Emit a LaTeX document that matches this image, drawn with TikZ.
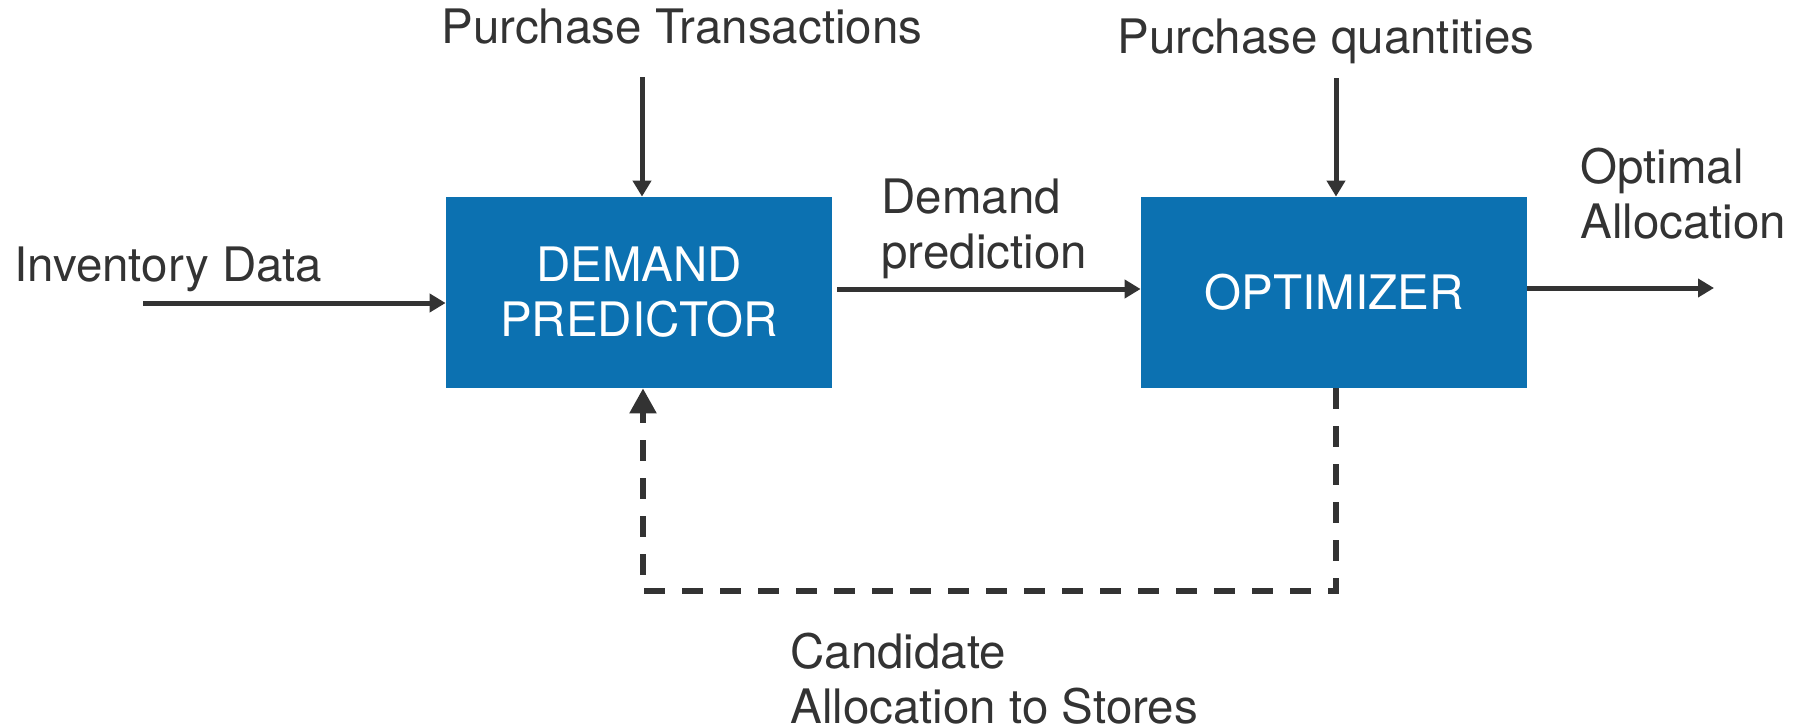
\documentclass[tikz,border=0pt]{standalone}
\usepackage{fontspec}
\setmainfont{TeX Gyre Heros}
\usetikzlibrary{arrows.meta}
\definecolor{boxblue}{RGB}{12,113,177}
\definecolor{ink}{RGB}{51,51,51}
\begin{document}
\begin{tikzpicture}[x=0.5pt,y=-0.5pt,
  every node/.style={font=\fontsize{23.75}{27.5}\selectfont, text=ink, inner sep=0pt},
  block/.style={fill=boxblue, text=white, minimum width=193pt, minimum height=95.5pt, align=center},
  lbl/.style={align=left, anchor=base west},
  conn/.style={draw=ink, line width=2.5pt, -{Triangle[length=8pt,width=9pt]}},
  fb/.style={draw=ink, line width=2.75pt, dash pattern=on 10.5pt off 8.5pt, -{Triangle[length=12.5pt,width=13pt]}}]
\useasboundingbox (0,0) rectangle (1806,728);

\node[block] (dp) at (639,292.5) {DEMAND\\PREDICTOR};
\node[block] (opt) at (1334,292.5) {OPTIMIZER};

\node[lbl] (inv) at (14,281) {Inventory Data};
\node[lbl] (pt) at (441,43) {Purchase Transactions};
\node[lbl] (pq) at (1117,54) {Purchase quantities};
\node[lbl] (dpl) at (881,268) {Demand\\prediction};
\node[lbl] (oa) at (1580,238) {Optimal\\Allocation};
\node[lbl] (cand) at (790,723) {Candidate\\Allocation to Stores};

\coordinate (invS) at (143,303);
\coordinate (ptS) at (642,77);
\coordinate (dpS) at (837,289);
\coordinate (pqS) at (1336,78);
\coordinate (outE) at (1714,288);
\coordinate (fbR) at (1336,591);
\coordinate (fbL) at (643,591);

\draw[conn] (invS) -- (invS -| dp.west);
\draw[conn] (ptS) -- (ptS |- dp.north);
\draw[conn] (dpS) -- (dpS -| opt.west);
\draw[conn] (pqS) -- (pqS |- opt.north);
\draw[conn] (outE -| opt.east) -- (outE);
\draw[fb] (fbR |- opt.south) -- (fbR) -- (fbL) -- (fbL |- dp.south);
\end{tikzpicture}
\end{document}
